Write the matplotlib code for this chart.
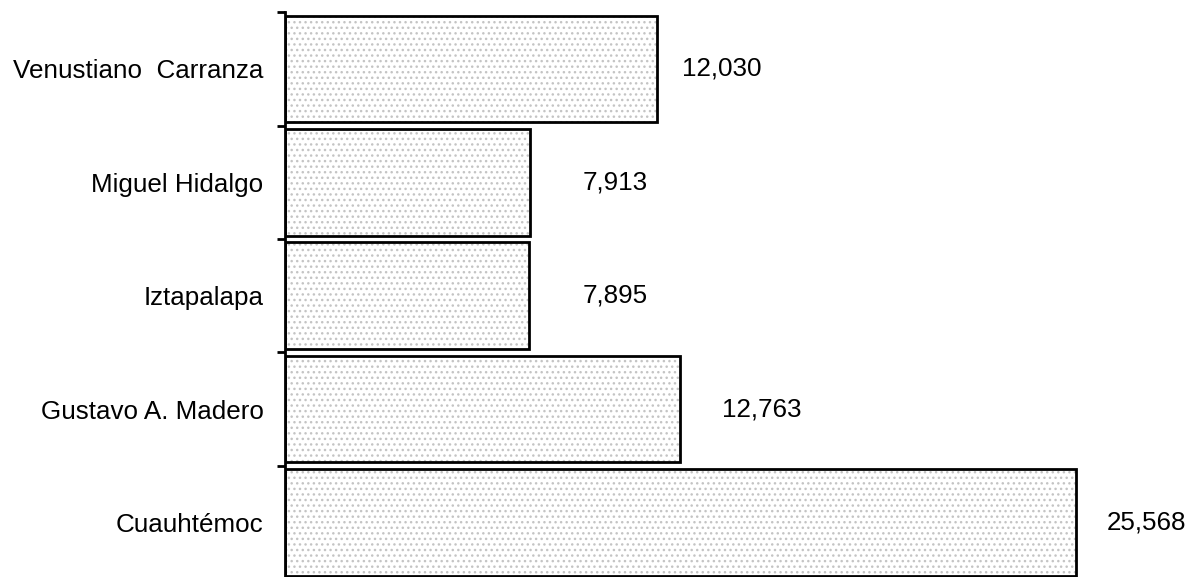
import matplotlib.pyplot as plt
import numpy as np

plt.rcParams['font.family'] = ['Liberation Sans', 'DejaVu Sans']
plt.rcParams['hatch.linewidth'] = 1.0

delegaciones = ['Venustiano  Carranza', 'Miguel Hidalgo', 'Iztapalapa',
                'Gustavo A. Madero', 'Cuauhtémoc']
valores = [12030, 7913, 7895, 12763, 25568]
# separacion de cada etiqueta respecto al final de la barra (px)
sep_etiqueta = [25, 53, 53, 42, 31]

fig = plt.figure(figsize=(12.01, 5.77), dpi=100)
ax = fig.add_axes([285 / 1201, -0.004, 916 / 1201, 0.983])

y = np.arange(len(delegaciones))
# relleno punteado gris y borde negro por separado
ax.barh(y, valores, height=0.94, color='white', edgecolor='#c4c4c4',
        hatch='...', linewidth=0)
ax.barh(y, valores, height=0.94, fill=False, edgecolor='black', linewidth=2)

for yi, v, s in zip(y, valores, sep_etiqueta):
    ax.annotate(f'{v:,}', (v, yi), xytext=(s * 0.72, 0),
                textcoords='offset points', ha='left', va='center',
                fontsize=18.7)

ax.set_xlim(0, 29606)
ax.set_ylim(len(delegaciones) - 0.5, -0.5)

for s in ['top', 'right', 'bottom']:
    ax.spines[s].set_visible(False)
ax.spines['left'].set_linewidth(2)

ax.set_xticks([])
ax.set_yticks(y)
ax.set_yticklabels(delegaciones, fontsize=18.7)
ax.tick_params(axis='y', which='major', length=0, pad=15.5)
ax.set_yticks(np.arange(-0.5, len(delegaciones), 1), minor=True)
ax.tick_params(axis='y', which='minor', length=6, width=2, direction='out')

fig.savefig('out.png', dpi=100)
